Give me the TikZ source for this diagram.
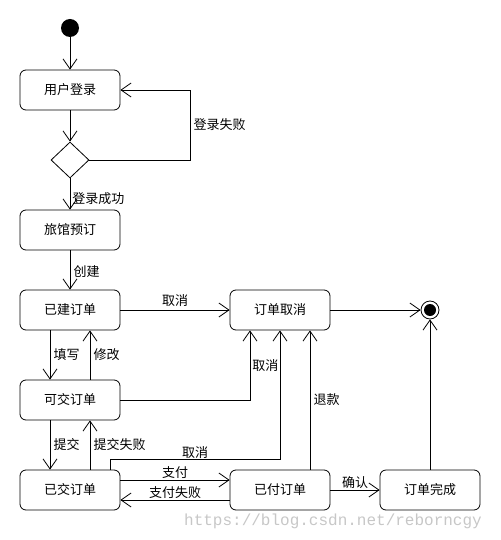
\documentclass[tikz,border=0pt]{standalone}
\usepackage{fontspec}
\newfontfamily\cjk{Noto Sans CJK SC}
\setmonofont{Liberation Mono}
\usetikzlibrary{arrows.meta,shapes.geometric}

\tikzset{
    state/.style={draw, rounded corners=6pt, minimum width=100pt, minimum height=40pt, inner sep=0pt},
    choice/.style={draw, diamond, minimum width=38pt, minimum height=36pt, inner sep=0pt},
}

\begin{document}
\begin{tikzpicture}[x=1pt, y=-1pt, line width=0.8pt,
    >={Straight Barb[length=10pt,width=14pt]},
    every node/.style={font=\cjk\fontsize{13}{15}\selectfont}]
    \useasboundingbox (0,0) rectangle (500,540);

    \node[circle, fill, minimum size=18pt, inner sep=0pt] (start) at (70,28) {};
    \node[state] (login) at (70,90) {用户登录};
    \node[choice] (decide) at (70,160) {};
    \node[state] (book) at (70,230) {旅馆预订};
    \node[state] (created) at (70,310) {已建订单};
    \node[state] (ready) at (70,400) {可交订单};
    \node[state] (submitted) at (70,490) {已交订单};
    \node[state] (cancelled) at (280,310) {订单取消};
    \node[state] (paid) at (280,490) {已付订单};
    \node[state] (done) at (430,490) {订单完成};
    \node[circle, draw, minimum size=18pt, inner sep=0pt] (finish) at (430,310) {};
    \fill (finish.center) circle[radius=6];

    \draw[->] (start) -- (login);
    \draw[->] (login) -- (decide);
    \draw[->] (decide) -- node[pos=0.65, right, inner sep=2pt]{登录成功} (book);
    \draw[->] (decide.east) -- (190,160) |- node[pos=0.25, right]{登录失败} (login.east);
    \draw[->] (book) -- node[pos=0.55, right]{创建} (created);
    \draw[->] (created) -- node[above]{取消} (cancelled);
    \draw[->] (cancelled) -- (finish);

    \draw[->] ([xshift=-20]created.south) -- node[right]{填写} ([xshift=-20]ready.north);
    \draw[->] ([xshift=20]ready.north) -- node[right]{修改} ([xshift=20]created.south);
    \draw[->] ([xshift=-20]ready.south) -- node[right]{提交} ([xshift=-20]submitted.north);
    \draw[->] ([xshift=20]submitted.north) -- node[right]{提交失败} ([xshift=20]ready.south);

    \draw[->] (ready.east) -| node[pos=0.75, right, inner sep=2pt]{取消} ([xshift=-30]cancelled.south);
    \draw[->] ([xshift=40]submitted.north) -- ++(0,-10) -| node[pos=0.25, above, inner sep=1pt]{取消} (cancelled.south);

    \draw[->] ([yshift=10]submitted.east) -- node[above, inner sep=1pt]{支付} ([yshift=10]paid.west);
    \draw[->] ([yshift=-10]paid.west) -- node[above, inner sep=1pt]{支付失败} ([yshift=-10]submitted.east);
    \draw[->] ([xshift=30]paid.north) -- node[right]{退款} ([xshift=30]cancelled.south);
    \draw[->] (paid) -- node[above, inner sep=1pt]{确认} (done);
    \draw[->] (done) -- (finish);

    \node[font=\ttfamily\fontsize{16}{16}\selectfont, text=black!22] (mark) at (333,521) {https://blog.csdn.net/reborncgy};
\end{tikzpicture}
\end{document}
